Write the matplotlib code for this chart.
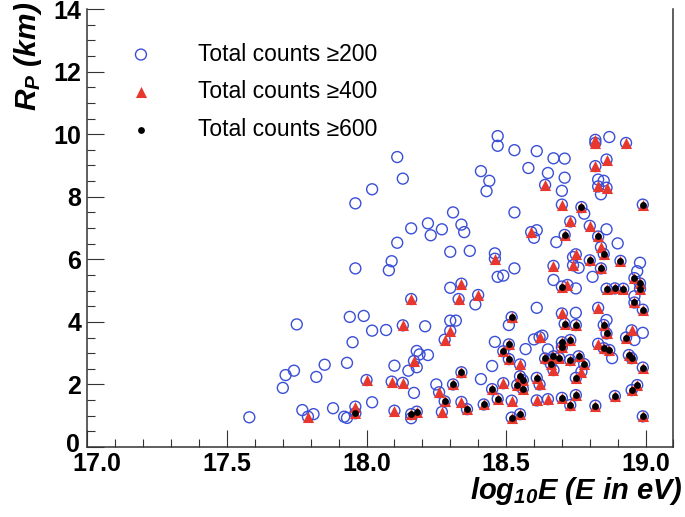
#-----------------------------------------------------------------
# Rp versus log10(E) for events passing total-count cuts
#-----------------------------------------------------------------
import matplotlib
matplotlib.use('Agg')
import matplotlib.pyplot as plt
from matplotlib.ticker import MultipleLocator, FormatStrFormatter
from matplotlib.transforms import ScaledTranslation

plt.rcParams['font.family'] = ['Liberation Sans', 'DejaVu Sans']
plt.rcParams['mathtext.default'] = 'regular'

# events with total counts >= 200 only (open circles)
c200_x = [17.58, 17.75, 17.71, 17.74, 17.70, 17.82, 17.85, 17.77, 17.81, 17.88,
          17.92, 17.93, 17.93, 17.95, 17.94, 17.99, 18.02, 18.07, 17.96, 17.96,
          18.02, 18.11, 18.13, 18.09, 18.08, 18.11, 18.16, 18.22, 18.23, 18.27,
          18.02, 18.10, 18.15, 18.18, 18.18, 18.19, 18.22, 18.17, 18.25, 18.16,
          18.21, 18.30, 18.32, 18.30, 18.31, 18.34, 18.35, 18.30, 18.37, 18.39,
          18.41, 18.44, 18.43, 18.47, 18.47, 18.53, 18.61, 18.58, 18.65, 18.67,
          18.71, 18.71, 18.70, 18.53, 18.46, 18.53, 18.47, 18.49, 18.67, 18.61,
          18.51, 18.61, 18.60, 18.68, 18.83, 18.85, 18.84, 18.87, 18.86, 18.90,
          18.74, 18.76, 18.81, 18.98, 18.97, 18.75, 18.75, 18.86, 18.99, 18.96,
          18.88, 18.57, 18.65, 18.60, 18.46, 18.45, 18.41, 18.78, 18.96, 18.63]
c200_y = [0.95, 3.92, 2.30, 2.44, 1.89, 2.24, 2.63, 1.18, 1.05, 1.24,
          0.97, 0.93, 2.69, 3.35, 4.16, 4.19, 3.72, 3.74, 5.71, 7.79,
          8.24, 9.27, 8.58, 5.94, 5.65, 6.53, 6.99, 7.15, 6.77, 6.96,
          1.43, 2.60, 2.44, 2.55, 3.07, 2.96, 2.94, 1.73, 2.00, 0.92,
          3.86, 4.04, 4.04, 5.09, 7.50, 7.11, 6.87, 6.24, 6.27, 4.56,
          8.82, 8.51, 8.18, 9.94, 9.63, 9.49, 9.46, 8.92, 8.76, 9.23,
          9.22, 8.61, 8.19, 7.50, 6.19, 5.71, 5.44, 5.48, 5.34, 4.45,
          3.90, 6.93, 6.69, 6.55, 8.55, 8.51, 8.08, 9.91, 6.96, 6.51,
          6.07, 5.73, 5.44, 5.89, 5.62, 5.07, 4.29, 4.06, 3.65, 4.82,
          2.84, 3.13, 3.12, 3.44, 3.36, 2.59, 2.17, 7.46, 3.42, 3.56]

# events with 400 <= total counts < 600 (triangles)
c400_x = [17.79, 18.00, 17.96, 18.09, 18.13, 18.13, 18.16, 18.17, 18.10, 18.26,
          18.27, 18.28, 18.30, 18.33, 18.34, 18.40, 18.46, 18.34, 18.49, 18.52,
          18.55, 18.62, 18.61, 18.65, 18.62, 18.67, 18.77, 18.83, 18.83, 18.70,
          18.72, 18.95, 18.74, 18.75, 18.67, 18.59, 18.64, 18.70, 18.73, 18.80,
          18.82, 18.82, 18.93, 18.86, 18.82, 18.83, 18.86, 18.84]
c400_y = [0.97, 2.14, 1.29, 2.09, 2.05, 3.89, 4.73, 2.75, 1.16, 1.75,
          1.12, 3.43, 3.71, 4.73, 5.22, 4.86, 6.02, 1.44, 2.04, 1.48,
          2.64, 2.00, 1.49, 1.53, 3.51, 2.46, 2.41, 3.30, 4.45, 4.27,
          5.18, 3.73, 5.81, 6.16, 5.79, 6.87, 8.38, 7.75, 7.21, 7.07,
          9.82, 9.72, 9.72, 9.19, 8.98, 8.33, 8.29, 6.39]

# events with total counts >= 600 (dots)
c600_x = [17.96, 18.16, 18.18, 18.28, 18.31, 18.34, 18.36, 18.42, 18.45, 18.47,
          18.52, 18.55, 18.52, 18.51, 18.49, 18.51, 18.55, 18.56, 18.54, 18.56,
          18.61, 18.64, 18.67, 18.69, 18.66, 18.70, 18.70, 18.73, 18.73, 18.76,
          18.78, 18.75, 18.75, 18.70, 18.73, 18.82, 18.89, 18.95, 18.97, 18.99,
          18.99, 18.85, 18.87, 18.94, 18.95, 18.93, 18.86, 18.85, 18.71, 18.75,
          18.99, 18.96, 18.86, 18.89, 18.92, 18.70, 18.98, 18.98, 18.96, 18.84,
          18.80, 18.91, 18.85, 18.71, 18.83, 18.77, 18.99]
c600_y = [1.08, 1.05, 1.13, 1.46, 2.00, 2.39, 1.21, 1.36, 1.85, 1.54,
          0.94, 1.05, 4.15, 3.28, 3.06, 2.81, 2.26, 2.14, 1.98, 1.86,
          2.21, 2.83, 2.90, 2.85, 2.66, 3.35, 3.19, 3.42, 2.78, 2.90,
          2.65, 2.21, 1.66, 1.57, 1.34, 1.32, 1.63, 1.82, 1.98, 2.54,
          0.98, 3.16, 3.10, 2.94, 2.84, 3.50, 3.63, 3.90, 3.94, 3.90,
          4.39, 4.62, 5.06, 5.07, 5.06, 5.13, 5.23, 5.06, 5.40, 5.71,
          5.97, 5.95, 6.17, 6.78, 6.73, 7.67, 7.75]

labels = ['Total counts \u2265200', 'Total counts \u2265400', 'Total counts \u2265600']

# every event passing a higher cut also passes the lower ones
all_x = c200_x + c400_x + c600_x
all_y = c200_y + c400_y + c600_y
mid_x = c400_x + c600_x
mid_y = c400_y + c600_y

fig = plt.figure(figsize=(6.85, 5.17), dpi=100)
ax = fig.add_axes([0.1277, 0.1354, 0.8555, 0.847])

h1 = ax.scatter(all_x, all_y, s=62, facecolors='none', edgecolors='#3a4fd6',
                linewidths=1.0, marker='o', zorder=2)
h2 = ax.scatter(mid_x, mid_y, s=64, color='#e8372c', marker='^', linewidths=0, zorder=3)
h3 = ax.scatter(c600_x, c600_y, s=24, color='black', marker='o', linewidths=0, zorder=4)

ax.set_xlim(17.0, 19.1)
ax.set_ylim(0, 14)
ax.xaxis.set_major_locator(MultipleLocator(0.5))
ax.xaxis.set_minor_locator(MultipleLocator(0.1))
ax.xaxis.set_major_formatter(FormatStrFormatter('%.1f'))
ax.yaxis.set_major_locator(MultipleLocator(2))
ax.yaxis.set_minor_locator(MultipleLocator(0.5))

ax.tick_params(which='both', direction='in', width=0.8, color='#333333',
               top=False, right=False)
ax.tick_params(which='major', length=12, labelsize=18)
ax.tick_params(axis='x', which='major', pad=3.5)
ax.tick_params(axis='y', which='major', pad=4.5)
ax.tick_params(which='minor', length=6)
for lab in ax.get_xticklabels() + ax.get_yticklabels():
    lab.set_fontweight('bold')

# nudge the corner labels apart like the original
for t in ax.xaxis.get_major_ticks():
    if abs(t.get_loc() - 17.0) < 1e-6:
        t.label1.set_transform(t.label1.get_transform()
                               + ScaledTranslation(9 / 100, 0, fig.dpi_scale_trans))
for t in ax.yaxis.get_major_ticks():
    if abs(t.get_loc()) < 1e-6:
        t.label1.set_transform(t.label1.get_transform()
                               + ScaledTranslation(-1 / 100, 4 / 100, fig.dpi_scale_trans))

ax.spines['top'].set_visible(False)
for side in ['left', 'bottom', 'right']:
    ax.spines[side].set_linewidth(1.1)
    ax.spines[side].set_color('#333333')

ax.set_xlabel(r'$log_{10}E$ (E in eV)', fontsize=21, fontweight='bold',
              fontstyle='italic', loc='right')
ax.xaxis.set_label_coords(1.016, -0.063)
ax.set_ylabel(r'$R_{P}$ (km)', fontsize=21.5, fontweight='bold',
              fontstyle='italic', loc='top')
ax.yaxis.set_label_coords(-0.075, 1.017)

ax.legend([h1, h2, h3], labels, loc='upper left', bbox_to_anchor=(0.0365, 0.9445),
          frameon=False, fontsize=16.5, borderaxespad=0, handlelength=2.0,
          handletextpad=1.48, labelspacing=0.65, scatterpoints=1)

plt.savefig('out.png', dpi=100)
